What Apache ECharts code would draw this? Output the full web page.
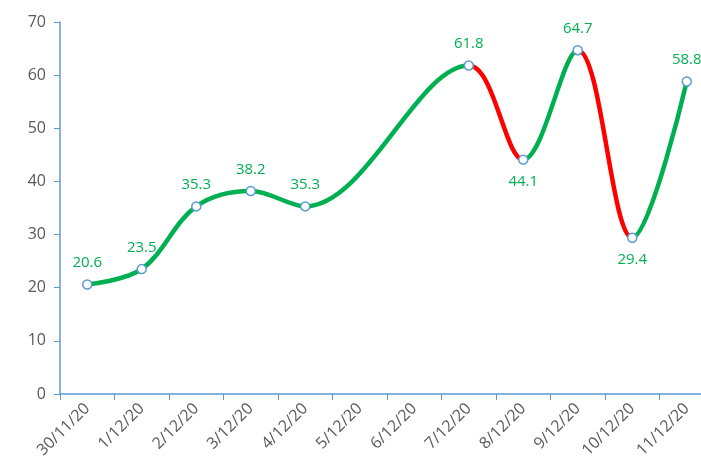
<!DOCTYPE html>
<html>
<head>
<meta charset="utf-8">
<script src="https://cdn.jsdelivr.net/npm/echarts@6/dist/echarts.min.js"></script>
<style>
  html, body { margin: 0; padding: 0; background: #fff; overflow: hidden; }
  #main { width: 714px; height: 472px; }
</style>
</head>
<body>
<div id="main"></div>
<script>
// 类目与数值
const dates = ['30/11/20', '1/12/20', '2/12/20', '3/12/20', '4/12/20', '5/12/20',
  '6/12/20', '7/12/20', '8/12/20', '9/12/20', '10/12/20', '11/12/20']
const values = [20.6, 23.5, 35.3, 38.2, 35.3, null, null, 61.8, 44.1, 64.7, 29.4, 58.8]
// 数据标签在点下方的位置
const labelBelow = [8, 10]
const yTicks = { min: 0, max: 70, interval: 10 }

const green = '#00B050'
const red = '#FF0000'
const axisColor = '#5B9BD5'

const labelData = values.map((v, i) => ({
  value: v,
  label: { position: labelBelow.includes(i) ? 'bottom' : 'top' }
}))

// 图表比窗口略宽，最后一个类目被右边裁掉
const myChart = echarts.init(document.getElementById('main'))
myChart.setOption({
  animation: false,
  grid: { left: 60, right: 0, top: 22, bottom: 78 },
  xAxis: {
    type: 'category',
    data: dates,
    boundaryGap: true,
    axisLine: { lineStyle: { color: axisColor, width: 1.5 } },
    axisTick: { show: true, length: 6, lineStyle: { color: axisColor } },
    axisLabel: { rotate: 45, color: '#595959', fontSize: 16, fontFamily: 'Open Sans', margin: 12, interval: 0 }
  },
  yAxis: {
    type: 'value',
    min: yTicks.min,
    max: yTicks.max,
    interval: yTicks.interval,
    axisLine: { show: true, lineStyle: { color: axisColor, width: 1.5 } },
    axisTick: { show: true, length: 6, lineStyle: { color: axisColor } },
    splitLine: { show: false },
    axisLabel: { color: '#595959', fontSize: 16, fontFamily: 'Open Sans', margin: 14 }
  },
  visualMap: {
    show: false,
    type: 'piecewise',
    dimension: 0,
    seriesIndex: 0,
    pieces: [
      { gte: 7, lte: 8, color: red },
      { gte: 9, lte: 10, color: red }
    ],
    outOfRange: { color: green }
  },
  series: [{
    // 曲线
    type: 'line',
    data: values,
    smooth: 0.35,
    connectNulls: true,
    showSymbol: false,
    lineStyle: { width: 4.5, cap: 'round' },
    z: 2
  }, {
    // 数据点与标签
    type: 'line',
    data: labelData,
    connectNulls: true,
    lineStyle: { opacity: 0 },
    symbol: 'circle',
    symbolSize: 9,
    itemStyle: { color: '#fff', borderColor: axisColor, borderWidth: 1.5 },
    label: { show: true, color: green, fontSize: 15, fontFamily: 'Open Sans', distance: 9 },
    z: 3
  }]
})
</script>
</body>
</html>
